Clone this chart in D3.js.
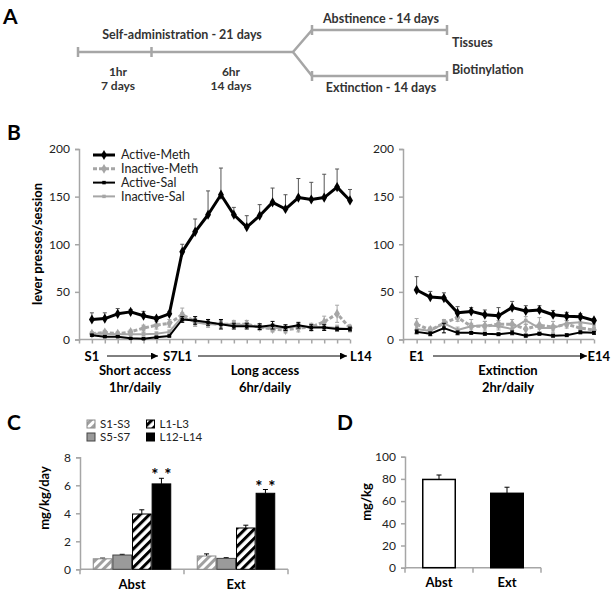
<!DOCTYPE html>
<html><head><meta charset="utf-8">
<script src="https://cdnjs.cloudflare.com/ajax/libs/d3/7.8.5/d3.min.js"></script>
<style>body{margin:0;background:#fff}svg{display:block}</style>
</head><body>
<svg id="c" width="611" height="592"></svg>
<script>
// ---------- DATA ----------
const sessionsLeft = ["S1","S2","S3","S4","S5","S6","S7","L1","L2","L3","L4","L5","L6","L7","L8","L9","L10","L11","L12","L13","L14"];
const activeMeth     = [21,22,27,29,25,22,27, 92,113,131,152,131,118,130,144,137,149,147,149,160,146];
const activeMethErr  = [7,6,5.5,2.5,4.5,2,2.5, 8,13.5,25,28,7.7,12,11.6,15,15,20,18,24.5,19,11.5];
const inactiveMeth   = [6,7.5,6,8,12,15,17, 26,19,17,16,16,16,13,11,10,12,13,18.5,27,12];
const inactiveMethErr= [2,2,2,2,3,4,4, 7,5,4,4,4,4,3,3,3,4,4,6,9,3];
const activeSal      = [4.5,3,3,1.2,0.8,2.3,3.7, 21,20,18,16,14,14,13.5,15,12.5,15,12.5,12.5,11,11];
const activeSalErr   = [1,1,1,0.8,0.8,1,1, 3,4,3,5,3,3,3,4,3,3,3,3,2,2];
const inactiveSal    = [6,6,5.5,5.5,5.5,6,8, 24,18,16,16,16,15,13,12,12,14,13,13,12,11];
const inactiveSalErr = [1.5,1.5,1.5,1.5,2,2,2, 4,4,3,3,3,3,3,3,3,3,3,3,3,3];

const sessionsRight = ["E1","E2","E3","E4","E5","E6","E7","E8","E9","E10","E11","E12","E13","E14"];
const extActiveMeth     = [52,44.5,43.5,28,29.5,26,25,33.5,30,31,26,24.5,24,20];
const extActiveMethErr  = [14,6,5.5,6.5,4,5,8.5,6.5,5.5,4.5,4.5,4,3,2];
const extInactiveMeth   = [16,10,17,23,14,14,16,16,11,15,13,16,12,10];
const extInactiveMethErr= [6,3,4,4,7,5,4,5,5,8,6,4,4,3];
const extActiveSal      = [8,6,12,7,7,6,5.5,7,4,6,4,4.5,7.5,7];
const extActiveSalErr   = [2,2,5,2,1.5,1.5,1.5,2,1.5,1.5,1.5,1.5,1.5,1.5];
const extInactiveSal    = [11,9,17,10,14,15,14,11,20,12,12,17,18,16];
const extInactiveSalErr = [4,3,3,3,3,4,4,4,4,4,3,3,3,3];

const bTicks = [0,50,100,150,200];

const cGroups = ["Abst","Ext"];
const cSeries = ["S1-S3","S5-S7","L1-L3","L12-L14"];
const cAbst    = [0.75,1.02,3.95,6.1];
const cAbstErr = [0.05,0.05,0.3,0.4];
const cExt     = [0.95,0.78,2.95,5.43];
const cExtErr  = [0.15,0.05,0.2,0.27];
const cTicks = [0,2,4,6,8];

const dGroups = ["Abst","Ext"];
const dValues = [79.5,67];
const dErr    = [4,5.5];
const dTicks = [0,20,40,60,80,100];

// ---------- SETUP ----------
const F = "Lato, 'Open Sans', sans-serif";
const svg = d3.select("#c").style("font-family", F);
const AX = "#a6a6a6", TXT = "#222";
const defs = svg.append("defs");
function stripes(id, color, bg, w, period){
  const p = defs.append("pattern").attr("id", id).attr("patternUnits","userSpaceOnUse")
    .attr("width", period).attr("height", period).attr("patternTransform","rotate(45)");
  p.append("rect").attr("width",period).attr("height",period).attr("fill",bg);
  p.append("rect").attr("width",w).attr("height",period).attr("fill",color);
}
stripes("hatchGray","#a0a0a0","#fff",3,6);
stripes("hatchBlack","#000","#fff",3,6.5);
defs.append("marker").attr("id","arr").attr("viewBox","0 0 10 10").attr("refX",10).attr("refY",5)
  .attr("markerWidth",9).attr("markerHeight",7).attr("markerUnits","userSpaceOnUse").attr("orient","auto")
  .append("path").attr("d","M0,0L10,5L0,10Z").attr("fill","#000");

function label(x,y,t,size,extra){
  const e = svg.append("text").attr("x",x).attr("y",y).text(t).attr("font-size",size)
    .attr("font-weight","bold").attr("fill","#000");
  if(extra) extra(e);
  return e;
}
label(3,24,"A",21); label(7,140,"B",21); label(7,430,"C",21); label(337,430,"D",21);

// ---------- PANEL A ----------
const A = svg.append("g").attr("stroke","#a6a6a6").attr("stroke-width",2.5).attr("fill","none");
A.append("line").attr("x1",78).attr("x2",293).attr("y1",52).attr("y2",52);
[78,151.5].forEach(x=>A.append("line").attr("x1",x).attr("x2",x).attr("y1",47).attr("y2",57));
A.append("path").attr("d","M293,52L312,30H447M293,52L312,76H447");
[30,76].forEach(y=>[312,447].forEach(x=>A.append("line").attr("x1",x).attr("x2",x).attr("y1",y-5).attr("y2",y+5)));
const at = (x,y,t,anchor,fs)=>svg.append("text").attr("x",x).attr("y",y).text(t).attr("font-size",fs||12.5)
  .attr("font-weight","bold").attr("fill","#333").attr("text-anchor",anchor||"middle");
at(182,39,"Self-administration - 21 days");
at(118,75.5,"1hr",null,12); at(118,89.5,"7 days",null,12); at(231,75.5,"6hr",null,12); at(231,89.5,"14 days",null,12);
at(381,23,"Abstinence - 14 days"); at(381,92,"Extinction - 14 days");
at(452,47,"Tissues","start"); at(452,74,"Biotinylation","start");

// ---------- PANEL B ----------
const yB = d3.scaleLinear().domain([0,200]).range([339.5,149]);
function lineChart(x, n, seriesList){
  const g = svg.append("g");
  const ya = g.append("g").attr("transform",`translate(${x.range()[0]},0)`)
    .call(d3.axisLeft(yB).tickValues(bTicks).tickSize(4).tickPadding(5));
  ya.select(".domain").attr("stroke",AX).attr("stroke-width",1.5);
  ya.selectAll(".tick line").attr("stroke",AX).attr("stroke-width",1.5);
  ya.selectAll("text").attr("font-size",12).attr("fill",TXT).attr("font-family",F);
  const xa = g.append("g").attr("transform",`translate(0,${yB(0)})`)
    .call(d3.axisBottom(x).tickValues(d3.range(0,n+1)).tickSize(4).tickFormat(""));
  xa.select(".domain").attr("stroke",AX).attr("stroke-width",1.5).attr("d",`M${x.range()[0]},0H${x.range()[1]}`);
  xa.selectAll(".tick line").attr("stroke",AX).attr("stroke-width",1.5);
  seriesList.forEach(s=>{
    const idx = d3.range(s.v.length);
    const eg = g.append("g").attr("stroke",s.ec).attr("stroke-width",1);
    idx.forEach(i=>{
      const cx = x(i+1), top = yB(s.v[i]+s.e[i]), bot = s.up ? yB(s.v[i]) : yB(Math.max(0,s.v[i]-s.e[i]));
      eg.append("line").attr("x1",cx).attr("x2",cx).attr("y1",top).attr("y2",bot);
      eg.append("line").attr("x1",cx-2).attr("x2",cx+2).attr("y1",top).attr("y2",top);
      if(!s.up) eg.append("line").attr("x1",cx-2).attr("x2",cx+2).attr("y1",bot).attr("y2",bot);
    });
    g.append("path").datum(idx).attr("fill","none").attr("stroke",s.c).attr("stroke-width",s.w)
      .attr("stroke-dasharray",s.dash||null).attr("stroke-linejoin","round")
      .attr("d",d3.line().x(i=>x(i+1)).y(i=>yB(s.v[i])));
    g.selectAll(null).data(idx).join("path").attr("fill",s.c)
      .attr("transform",i=>`translate(${x(i+1)},${yB(s.v[i])})`)
      .attr("d",d3.symbol(s.sym,s.size)());
  });
}
const styles = {
  am:{c:"#000",w:3,sym:d3.symbolDiamond,size:30,ec:"#555",up:true},
  im:{c:"#a6a6a6",w:3,dash:"4,2",sym:d3.symbolDiamond,size:28,ec:"#a6a6a6"},
  as:{c:"#000",w:2,sym:d3.symbolSquare,size:12,ec:"#000"},
  is:{c:"#a6a6a6",w:2,sym:d3.symbolSquare,size:12,ec:"#a6a6a6"}
};
const xL = d3.scaleLinear().domain([0,21]).range([79,350]);
lineChart(xL, 21, [
  {...styles.is, v:inactiveSal, e:inactiveSalErr},
  {...styles.im, v:inactiveMeth, e:inactiveMethErr},
  {...styles.as, v:activeSal, e:activeSalErr},
  {...styles.am, v:activeMeth, e:activeMethErr}
]);
const xR = d3.scaleLinear().domain([0,14]).range([403,594]);
lineChart(xR, 14, [
  {...styles.is, v:extInactiveSal, e:extInactiveSalErr},
  {...styles.im, v:extInactiveMeth, e:extInactiveMethErr},
  {...styles.as, v:extActiveSal, e:extActiveSalErr},
  {...styles.am, v:extActiveMeth, e:extActiveMethErr}
]);
const legItems = [["Active-Meth",styles.am],["Inactive-Meth",styles.im],["Active-Sal",styles.as],["Inactive-Sal",styles.is]];
legItems.forEach(([t,s],i)=>{
  const y = 155 + i*13.8;
  svg.append("line").attr("x1",93).attr("x2",115).attr("y1",y).attr("y2",y).attr("stroke",s.c)
    .attr("stroke-width",s.w).attr("stroke-dasharray",s.dash||null);
  svg.append("path").attr("transform",`translate(104,${y})`).attr("fill",s.c).attr("d",d3.symbol(s.sym,s.size)());
  svg.append("text").attr("x",121).attr("y",y).attr("dy","0.35em").text(t).attr("font-size",12.5).attr("fill",TXT);
});
label(0,0,"lever presses/session",13,e=>e.attr("text-anchor","middle").attr("transform","translate(42,244) rotate(-90)"));
const xl = (x,y,t,a)=>label(x,y,t,13,e=>e.attr("text-anchor",a||"middle"));
xl(xL(1),361,"S1"); xl(163,361,"S7L1","start");
xl(350,361,"L14","start");
xl(xR(1),361,"E1"); xl(610,361,"E14","end");
const arrow=(x1,x2)=>svg.append("line").attr("x1",x1).attr("x2",x2).attr("y1",356).attr("y2",356)
  .attr("stroke","#000").attr("stroke-width",1).attr("marker-end","url(#arr)");
arrow(107,158); arrow(198,347); arrow(433,587);
xl(135,375,"Short access"); xl(135,392,"1hr/daily");
xl(265,375,"Long access"); xl(265,392,"6hr/daily");
xl(508,375,"Extinction"); xl(508,392,"2hr/daily");

// ---------- PANEL C ----------
const yC = d3.scaleLinear().domain([0,8]).range([569.3,457.3]);
const xC = d3.scaleBand().domain(cGroups).range([80,288]);
const xCi = d3.scaleBand().domain(cSeries).range([0,xC.bandwidth()]).paddingInner(0).paddingOuter(0.65);
const cFill = {"S1-S3":"url(#hatchGray)","S5-S7":"#9a9a9a","L1-L3":"url(#hatchBlack)","L12-L14":"#000"};
const cStroke = {"S1-S3":"#8a8a8a","S5-S7":"#444","L1-L3":"#000","L12-L14":"#000"};
function barAxes(y, x, ticks, x0){
  const ya = svg.append("g").attr("transform",`translate(${x0},0)`)
    .call(d3.axisLeft(y).tickValues(ticks).tickSize(4).tickPadding(5));
  ya.select(".domain").attr("stroke",AX).attr("stroke-width",1.5);
  ya.selectAll(".tick line").attr("stroke",AX).attr("stroke-width",1.5);
  ya.selectAll("text").attr("font-size",12).attr("fill",TXT).attr("font-family",F);
  const xa = svg.append("g").attr("transform",`translate(0,${y(0)})`)
    .call(d3.axisBottom(x).tickSize(0).tickPadding(10));
  xa.select(".domain").attr("stroke",AX).attr("stroke-width",1.5).attr("d",`M${x.range()[0]},0H${x.range()[1]}`);
  const b = [x.range()[0], ...x.domain().map(d=>x(d)+x.bandwidth()+(x.step()-x.bandwidth())/2)];
  b.forEach(v=>xa.append("line").attr("x1",v).attr("x2",v).attr("y1",0).attr("y2",5).attr("stroke",AX).attr("stroke-width",1.5));
  xa.selectAll(".tick text").attr("font-size",13).attr("font-weight","bold").attr("fill","#000").attr("font-family",F);
}
barAxes(yC, xC, cTicks, 80);
const cData = [{g:"Abst",v:cAbst,e:cAbstErr},{g:"Ext",v:cExt,e:cExtErr}];
cData.forEach(d=>{
  cSeries.forEach((s,i)=>{
    const bx = xC(d.g)+xCi(s), bw = xCi.bandwidth();
    const cx = bx+bw/2, top = yC(d.v[i]+d.e[i]);
    svg.append("line").attr("x1",cx).attr("x2",cx).attr("y1",top).attr("y2",yC(d.v[i])).attr("stroke","#000");
    svg.append("line").attr("x1",cx-2.5).attr("x2",cx+2.5).attr("y1",top).attr("y2",top).attr("stroke","#000");
    svg.append("rect").attr("x",bx+0.5).attr("width",bw-1).attr("y",yC(d.v[i])).attr("height",yC(0)-yC(d.v[i]))
      .attr("fill",cFill[s]).attr("stroke",cStroke[s]).attr("stroke-width",1);
  });
  const last = cSeries.length-1, cx = xC(d.g)+xCi(cSeries[last])+xCi.bandwidth()/2;
  const ty = yC(d.v[last]+d.e[last])+3;
  [-6.5,6.5].forEach(o=>label(cx+o, ty, "*", 17, e=>e.attr("text-anchor","middle")));
});
cSeries.forEach((s,i)=>{
  const col = Math.floor(i/2), row = i%2;
  const lx = [87,146.5][col], ly = [424,437][row];
  svg.append("rect").attr("x",lx).attr("y",ly-4).attr("width",8).attr("height",8)
    .attr("fill",cFill[s]).attr("stroke",cStroke[s]);
  svg.append("text").attr("x",lx+13).attr("y",ly).attr("dy","0.35em").text(s).attr("font-size",11.5).attr("fill",TXT);
});
label(0,0,"mg/kg/day",13,e=>e.attr("text-anchor","middle").attr("transform","translate(49,498) rotate(-90)"));

// ---------- PANEL D ----------
const yD = d3.scaleLinear().domain([0,100]).range([567.7,456.7]);
const xD = d3.scaleBand().domain(dGroups).range([405,541]).paddingInner(0.5).paddingOuter(0.25);
barAxes(yD, xD, dTicks, 405);
dGroups.forEach((g,i)=>{
  const bx = xD(g), bw = xD.bandwidth(), cx = bx+bw/2, top = yD(dValues[i]+dErr[i]);
  svg.append("line").attr("x1",cx).attr("x2",cx).attr("y1",top).attr("y2",yD(dValues[i])).attr("stroke","#000");
  svg.append("line").attr("x1",cx-2.5).attr("x2",cx+2.5).attr("y1",top).attr("y2",top).attr("stroke","#000");
  svg.append("rect").attr("x",bx+0.75).attr("width",bw-1.5).attr("y",yD(dValues[i])).attr("height",yD(0)-yD(dValues[i]))
    .attr("fill",i===0?"#fff":"#000").attr("stroke","#000").attr("stroke-width",1.5);
});
label(0,0,"mg/kg",13,e=>e.attr("text-anchor","middle").attr("transform","translate(371,502) rotate(-90)"));
</script>
</body></html>
